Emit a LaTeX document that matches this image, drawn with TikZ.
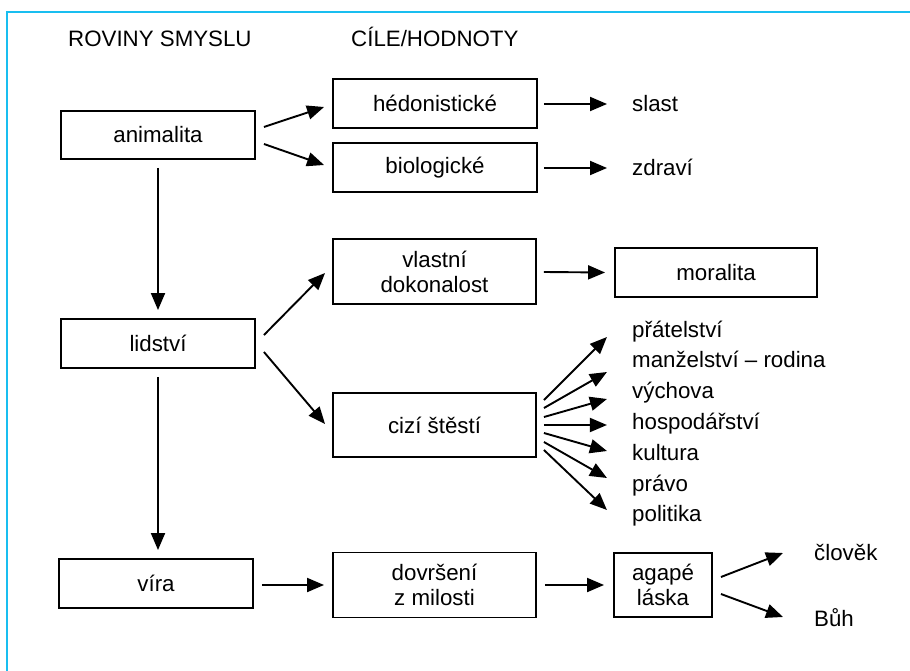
\documentclass[tikz,border=0pt]{standalone}
\usepackage{fontspec}
\setmainfont{Liberation Sans}
\usetikzlibrary{arrows.meta,calc}
\definecolor{frameblue}{RGB}{25,190,240}
\newcommand\diafont{\fontsize{22.3}{25}\selectfont}
\begin{document}
\begin{tikzpicture}[x=1pt,y=-1pt,
  box/.style={draw, line width=1.9pt, inner sep=0pt, align=center, font=\diafont},
  lbl/.style={inner sep=0pt, anchor=base west, font=\diafont},
  arr/.style={line width=1.9pt, -{Triangle[length=17pt,width=14pt]}}]
\useasboundingbox (0,0) rectangle (910,671);
\fill[white] (0,0) rectangle (910,671);
\draw[frameblue, line width=2.5pt] (7,671) -- (7,12) -- (910,12);
% headers
\node[lbl] (h1) at (68,46.7) {ROVINY SMYSLU};
\node[lbl] (h2) at (351,46.7) {CÍLE/HODNOTY};
% left column
\node[box, minimum width=194pt, minimum height=48pt] (anim) at (158,135) {animalita};
\node[box, minimum width=194pt, minimum height=49pt] (lid) at (158,343.5) {lidství};
\node[box, minimum width=194pt, minimum height=49pt] (vira) at (156,583.5) {víra};
% middle column
\node[box, minimum width=204pt, minimum height=49pt] (hed) at (435,103.5) {hédonistické};
\node[box, minimum width=204pt, minimum height=49pt] (bio) at (435,167.5) {biologické};
\node[box, minimum width=203pt, minimum height=65pt] (vla) at (434.5,271.5) {vlastní\\dokonalost};
\node[box, minimum width=203pt, minimum height=64pt] (ciz) at (434.5,425) {cizí štěstí};
\node[box, minimum width=203pt, minimum height=65pt] (dov) at (434.5,585) {dovršení\\z milosti};
% right column
\node[box, minimum width=202pt, minimum height=49pt] (mor) at (716,272.5) {moralita};
\node[box, minimum width=98pt, minimum height=64pt] (aga) at (663,585) {agapé\\láska};
\node[lbl] (slast) at (632,112) {slast};
\node[lbl] (zdr) at (632,176) {zdraví};
\node[lbl] (p1) at (632,337) {přátelství};
\node[lbl] (p2) at (632,367.8) {manželství – rodina};
\node[lbl] (p3) at (632,398.6) {výchova};
\node[lbl] (p4) at (632,429.4) {hospodářství};
\node[lbl] (p5) at (632,460.2) {kultura};
\node[lbl] (p6) at (632,491) {právo};
\node[lbl] (p7) at (632,521.8) {politika};
\node[lbl] (clo) at (814,560) {člověk};
\node[lbl] (buh) at (814,626) {Bůh};
% connectors
\draw[arr] ($(anim.east)+(8,-8)$) -- ($(hed.west)+(-8,3.5)$);
\draw[arr] ($(anim.east)+(8,9)$) -- ($(bio.west)+(-8,-2.5)$);
\draw[arr] ($(anim.south)+(0,8)$) -- ($(lid.north)+(0,-8)$);
\draw[arr] ($(lid.south)+(0,8)$) -- ($(vira.north)+(2,-8)$);
\draw[arr] ($(lid.east)+(8,-8.5)$) -- ($(vla.west)+(-7,1.5)$);
\draw[arr] ($(lid.east)+(8,8.5)$) -- ($(ciz.west)+(-7,-1)$);
\draw[arr] ($(hed.east)+(6,0.5)$) -- ($(slast.base west)+(-25,-8)$);
\draw[arr] ($(bio.east)+(6,0.5)$) -- ($(zdr.base west)+(-25,-8)$);
\draw[arr] ($(vla.east)+(7,0.5)$) -- ($(mor.west)+(-9,0)$);
\foreach \s/\t in {-25/-88, -17/-53, -8/-26, 0/0, 8/26, 17/53, 25/85}
  \draw[arr] ($(ciz.east)+(7,\s)$) -- ($(ciz.east)+(70,\t)$);
\draw[arr] ($(vira.east)+(8,1.5)$) -- ($(dov.west)+(-8,0)$);
\draw[arr] ($(dov.east)+(8,0)$) -- ($(aga.west)+(-9,0)$);
\draw[arr] ($(aga.east)+(8,-8)$) -- ($(clo.base west)+(-31,-7)$);
\draw[arr] ($(aga.east)+(8,9)$) -- ($(buh.base west)+(-31,-9)$);
\end{tikzpicture}
\end{document}
